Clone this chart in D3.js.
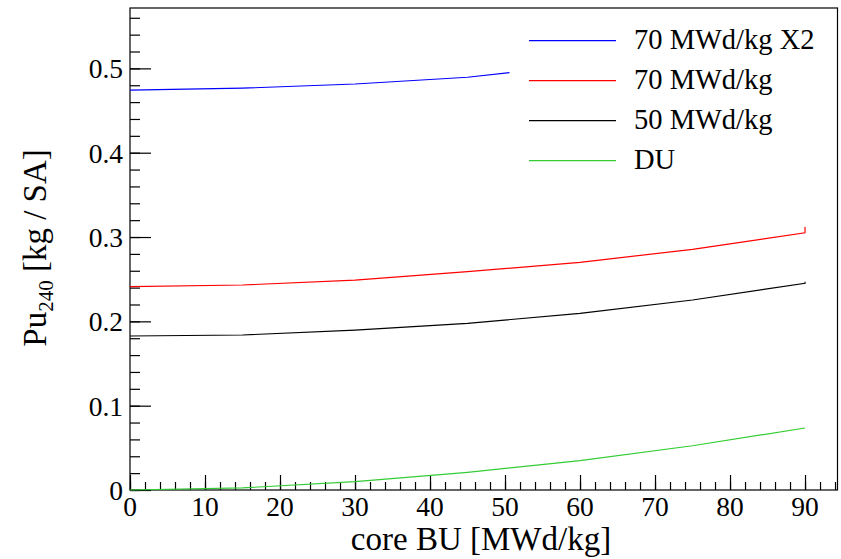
<!DOCTYPE html>
<html>
<head>
<meta charset="utf-8">
<script src="https://cdn.jsdelivr.net/npm/d3@7"></script>
<style>
    body { margin: 0; background: #ffffff; }
    text { font-family: "Liberation Serif", "DejaVu Serif", serif; fill: #000000; }
</style>
</head>
<body>
<div id="plot"></div>
<script>
// data (x = core BU [MWd/kg], y = Pu240 [kg / SA])
var series_names = ['70 MWd/kg X2', '70 MWd/kg', '50 MWd/kg', 'DU'];
var series_colors = ['#0000ff', '#ff0000', '#000000', '#33cc33'];

var bu_x2 = [0, 15, 30, 45, 50.6];
var pu_x2 = [0.4743, 0.4765, 0.4815, 0.4895, 0.4949];

var bu_70 = [0, 15, 30, 45, 60, 75, 90, 90];
var pu_70 = [0.2411, 0.2431, 0.2490, 0.2589, 0.2700, 0.2854, 0.3051, 0.3118];

var bu_50 = [0, 15, 30, 45, 60, 75, 90, 90];
var pu_50 = [0.1826, 0.1838, 0.1897, 0.1976, 0.2095, 0.2253, 0.2451, 0.2470];

var bu_du = [0, 15, 30, 45, 60, 75, 90];
var pu_du = [0.0, 0.0025, 0.0099, 0.0210, 0.0348, 0.0525, 0.0735];

var x_ticks = [0, 10, 20, 30, 40, 50, 60, 70, 80, 90];
var y_ticks = [0, 0.1, 0.2, 0.3, 0.4, 0.5];

var x_title = 'core BU [MWd/kg]';

var width = 841;
var height = 559;

var x_min = 0, x_max = 94.33;
var y_min = 0, y_max = 0.5716;

// frame edges in pixels
var pad_left = 130, pad_right = 837.5, pad_top = 8, pad_bottom = 490;

var x = d3.scaleLinear().domain([x_min, x_max]).range([pad_left, pad_right]);
var y = d3.scaleLinear().domain([y_min, y_max]).range([pad_bottom, pad_top]);

var svg = d3.select('#plot')
  .append('svg')
    .attr('width', width)
    .attr('height', height);

svg.append('rect')
    .attr('width', width)
    .attr('height', height)
    .attr('fill', '#ffffff');

// frame
svg.append('rect')
    .attr('x', pad_left)
    .attr('y', pad_top)
    .attr('width', pad_right - pad_left)
    .attr('height', pad_bottom - pad_top)
    .attr('fill', 'none')
    .attr('stroke', '#000000')
    .attr('stroke-width', 1.2);

// x axis: major ticks every 10, minor every 2
var x_axis = d3.axisTop(x)
    .tickValues(x_ticks)
    .tickSize(15)
    .tickFormat('');
var x_minor = d3.axisTop(x)
    .tickValues(d3.range(0, x_max, 2))
    .tickSize(8)
    .tickFormat('');

svg.append('g')
    .attr('transform', 'translate(0,' + pad_bottom + ')')
    .call(x_minor)
    .call(function(g) { g.select('.domain').remove(); });
svg.append('g')
    .attr('transform', 'translate(0,' + pad_bottom + ')')
    .call(x_axis)
    .call(function(g) { g.select('.domain').remove(); });

// y axis: major ticks every 0.1, minor every 0.02
var y_axis = d3.axisRight(y)
    .tickValues(y_ticks)
    .tickSize(21)
    .tickFormat('');
var y_minor = d3.axisRight(y)
    .tickValues(d3.range(0, y_max, 0.02))
    .tickSize(10)
    .tickFormat('');

svg.append('g')
    .attr('transform', 'translate(' + pad_left + ',0)')
    .call(y_minor)
    .call(function(g) { g.select('.domain').remove(); });
svg.append('g')
    .attr('transform', 'translate(' + pad_left + ',0)')
    .call(y_axis)
    .call(function(g) { g.select('.domain').remove(); });

svg.selectAll('.tick line')
    .attr('stroke', '#000000')
    .attr('stroke-width', 1.2);

// x tick labels
svg.append('g')
    .selectAll('text.x-label')
    .data(x_ticks)
  .enter()
    .append('text')
    .attr('class', 'x-label')
    .attr('font-size', '27.5px')
    .style('text-anchor', 'middle')
    .attr('x', function(d) { return x(d); })
    .attr('y', pad_bottom + 26)
    .text(function(d) { return d; });

// y tick labels
svg.append('g')
    .selectAll('text.y-label')
    .data(y_ticks)
  .enter()
    .append('text')
    .attr('class', 'y-label')
    .attr('font-size', '27.5px')
    .style('text-anchor', 'end')
    .attr('x', pad_left - 7)
    .attr('y', function(d) { return y(d) + 10; })
    .text(function(d) { return d === 0 ? '0' : d.toFixed(1); });

// axis titles
svg.append('text')
    .attr('font-size', '33px')
    .style('text-anchor', 'middle')
    .attr('x', 481)
    .attr('y', 550)
    .text(x_title);

var y_title = svg.append('text')
    .attr('font-size', '33px')
    .style('text-anchor', 'middle')
    .attr('transform', 'translate(46,248) rotate(-90)');
y_title.append('tspan').text('Pu');
y_title.append('tspan')
    .attr('font-size', '21px')
    .attr('dy', 7)
    .text('240');
y_title.append('tspan')
    .attr('dy', -7)
    .text(' [kg / SA]');

// curves
var all_x = [bu_x2, bu_70, bu_50, bu_du];
var all_y = [pu_x2, pu_70, pu_50, pu_du];

var line = d3.line()
    .x(function(d) { return x(d[0]); })
    .y(function(d) { return y(d[1]); });

for (var i = 0; i < series_names.length; i++) {
    var pts = all_x[i].map(function(v, j) { return [v, all_y[i][j]]; });
    svg.append('path')
        .datum(pts)
        .attr('fill', 'none')
        .attr('stroke', series_colors[i])
        .attr('stroke-width', 1.2)
        .attr('d', line);
}

// legend
var legend = svg.append('g')
    .selectAll('g.legend')
    .data(series_names)
  .enter()
    .append('g')
    .attr('class', 'legend')
    .attr('transform', function(d, i) { return 'translate(0,' + (40.7 + i * 40) + ')'; });

legend.append('line')
    .attr('x1', 529)
    .attr('x2', 616)
    .attr('y1', 0)
    .attr('y2', 0)
    .attr('stroke', function(d, i) { return series_colors[i]; })
    .attr('stroke-width', 1.2);

legend.append('text')
    .attr('font-size', '28.5px')
    .attr('x', 634)
    .attr('y', 8)
    .text(function(d) { return d; });
</script>
</body>
</html>
